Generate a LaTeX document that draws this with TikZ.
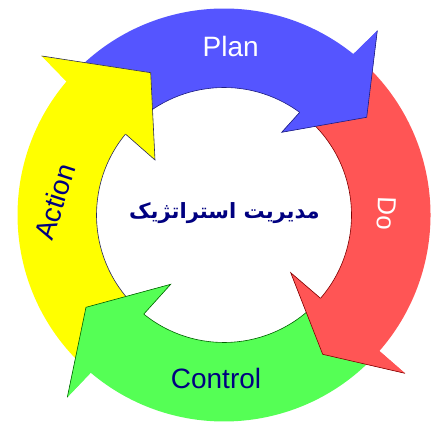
\documentclass[tikz,border=0pt]{standalone}
\usepackage{fontspec}
\setmainfont{Liberation Sans}
\newfontfamily\arabicfont[Script=Arabic]{DejaVu Sans}
\TeXXeTstate=1
\usetikzlibrary{calc}
\definecolor{cblue}{RGB}{85,85,255}
\definecolor{cred}{RGB}{255,85,85}
\definecolor{cgreen}{RGB}{85,255,85}
\definecolor{cyellow}{RGB}{255,255,0}
\definecolor{dblue}{RGB}{30,30,128}
\definecolor{dred}{RGB}{128,0,0}
\definecolor{dgreen}{RGB}{0,96,0}
\definecolor{dyellow}{RGB}{40,40,100}
\definecolor{navy}{RGB}{0,0,128}
\tikzset{
  edgeline/.style={line width=0.6pt, line join=miter},
  lbl/.style={inner sep=0pt, font=\fontsize{28}{28}\selectfont},
}
\begin{document}
\begin{tikzpicture}[x=1pt,y=1pt]
\useasboundingbox (0,0) rectangle (446,427);
\coordinate (C) at (224,212);
% notches (on circles)
\coordinate (Bon) at ($(C)+(51.2:206.5)$);
\coordinate (Bin) at ($(C)+(53.6:127.5)$);
\coordinate (Ron) at ($(C)+(-41.2:206.5)$);
\coordinate (Rin) at ($(C)+(-40.8:127.5)$);
\coordinate (Gon) at ($(C)+(-130.2:206.5)$);
\coordinate (Gin) at ($(C)+(-129:127.5)$);
\coordinate (Yon) at ($(C)+(139.7:206.5)$);
\coordinate (Yin) at ($(C)+(140.6:127.5)$);
% barbs and tips
\coordinate (Bob) at (377.3,396.3);
\coordinate (Bt)  at (366.7,309.7);
\coordinate (Bib) at (281.7,294.7);
\coordinate (Rob) at (405,53.7);
\coordinate (Rt)  at (322.7,72.7);
\coordinate (Rib) at (290.7,154.3);
\coordinate (Gob) at (67.3,29.7);
\coordinate (Gt)  at (86,119.7);
\coordinate (Gib) at (170.7,142.7);
\coordinate (Yob) at (41.7,371);
\coordinate (Yt)  at (150.7,354.3);
\coordinate (Yib) at (155,267);
% full arrows
\fill[cblue] ($(C)+(137:206.5)$) arc[start angle=137,end angle=51.2,radius=206.5]
  -- (Bob) -- (Bt) -- (Bib) -- (Bin) arc[start angle=53.6,end angle=137,radius=127.5] -- cycle;
\fill[cred] ($(C)+(49:206.5)$) arc[start angle=49,end angle=-41.2,radius=206.5]
  -- (Rob) -- (Rt) -- (Rib) -- (Rin) arc[start angle=-40.8,end angle=49,radius=127.5] -- cycle;
\fill[cgreen] ($(C)+(-44:206.5)$) arc[start angle=-44,end angle=-130.2,radius=206.5]
  -- (Gob) -- (Gt) -- (Gib) -- (Gin) arc[start angle=-129,end angle=-44,radius=127.5] -- cycle;
\fill[cyellow] ($(C)+(227:206.5)$) arc[start angle=227,end angle=139.7,radius=206.5]
  -- (Yob) -- (Yt) -- (Yib) -- (Yin) arc[start angle=140.6,end angle=227,radius=127.5] -- cycle;
% inner edges
\draw[edgeline,dblue] (Bin) arc[start angle=53.6,end angle=137,radius=127.5];
\draw[edgeline,dred] (Rin) arc[start angle=-40.8,end angle=49,radius=127.5];
\draw[edgeline,dgreen] (Gin) arc[start angle=-129,end angle=-44,radius=127.5];
\draw[edgeline,dyellow] (Yin) arc[start angle=140.6,end angle=227,radius=127.5];
% heads on top
\fill[cblue] (Bon) -- (Bob) -- (Bt) -- (Bib) -- (Bin) -- cycle;
\fill[cred] (Ron) -- (Rob) -- (Rt) -- (Rib) -- (Rin) -- cycle;
\fill[cgreen] (Gon) -- (Gob) -- (Gt) -- (Gib) -- (Gin) -- cycle;
\fill[cyellow] (Yon) -- (Yob) -- (Yt) -- (Yib) -- (Yin) -- cycle;
\draw[edgeline,dblue] (Bob) -- (Bt) -- (Bib) -- (Bin);
\draw[edgeline,dred] (Rob) -- (Rt) -- (Rib) -- (Rin);
\draw[edgeline,dgreen] (Gob) -- (Gt) -- (Gib) -- (Gin);
\draw[edgeline,dyellow] (Yob) -- (Yt) -- (Yib) -- (Yin);
% labels
\node[lbl,text=white,anchor=base] (plan) at (230.7,370.3) {Plan};
\node[lbl,text=navy,anchor=base] (control) at (216,38.5) {Control};
\node[inner sep=0pt,text=white,rotate=-92,font=\fontsize{26}{26}\selectfont] (do) at (386.7,213.7) {Do};
\node[lbl,text=navy,rotate=72] (action) at (55,225.3) {Action};
\node[inner sep=0pt,text=navy,font=\arabicfont\bfseries\fontsize{21}{21}\selectfont] (center) at (224.5,213.5) {\beginR مدیریت استراتژیک\endR};
\end{tikzpicture}
\end{document}
